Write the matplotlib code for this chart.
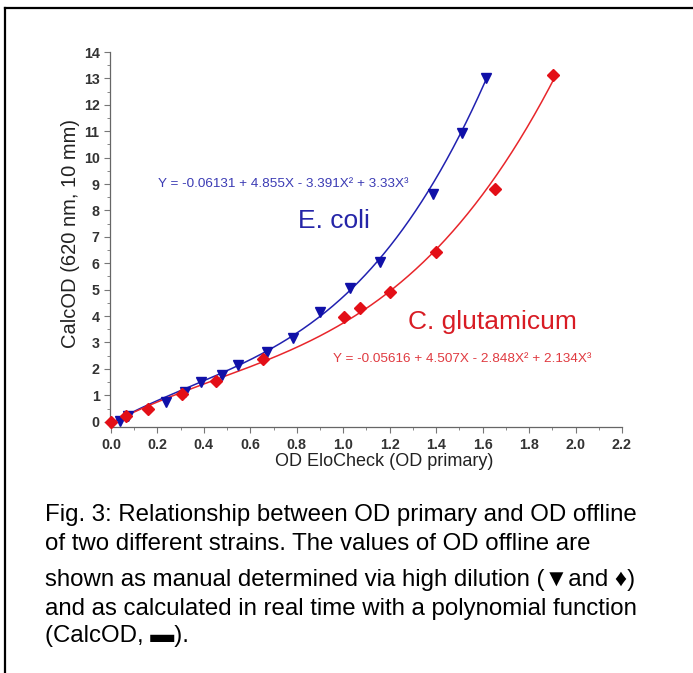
import numpy as np
import matplotlib
matplotlib.use("Agg")
import matplotlib.pyplot as plt
from matplotlib.lines import Line2D
from matplotlib.ticker import MultipleLocator

# ---- data ----
ecoli_x = [0.04, 0.075, 0.237, 0.318, 0.387, 0.476, 0.548, 0.672, 0.784, 0.899,
           1.031, 1.157, 1.386, 1.512, 1.613]
ecoli_y = [0.03, 0.20, 0.76, 1.14, 1.49, 1.77, 2.15, 2.63, 3.16, 4.14,
           5.05, 6.06, 8.61, 10.95, 13.0]
cglut_x = [0.0, 0.067, 0.158, 0.308, 0.454, 0.655, 1.002, 1.073, 1.2, 1.401,
           1.655, 1.905]
cglut_y = [0.0, 0.23, 0.48, 1.04, 1.54, 2.36, 3.95, 4.31, 4.92, 6.43,
           8.82, 13.12]
# polynomial fit coefficients as printed on the chart (c0, c1, c2, c3)
ecoli_coef = [-0.06131, 4.855, -3.391, 3.33]
cglut_coef = [-0.05616, 4.507, -2.848, 2.134]
xticks = [0.0, 0.2, 0.4, 0.6, 0.8, 1.0, 1.2, 1.4, 1.6, 1.8, 2.0, 2.2]
yticks = list(range(0, 15))

caption_lines = [
    "Fig. 3: Relationship between OD primary and OD offline",
    "of two different strains. The values of OD offline are",
    "shown as manual determined via high dilution (\u25bcand \u2666)",
    "and as calculated in real time with a polynomial function",
    "(CalcOD, \u25ac).",
]

W, H = 693, 673
fig = plt.figure(figsize=(W / 100, H / 100), dpi=100)
fig.patch.set_facecolor("white")
FAM = ["Liberation Sans", "DejaVu Sans"]


def fx(px):
    return px / W


def fy(py):
    return 1 - py / H


ax = fig.add_axes([fx(110), fy(427), (622 - 110) / W, (427 - 52) / H])
ax.set_xlim(-0.004, 2.2)
ax.set_ylim(-0.2, 14)

blue_line, blue_mk = "#2121b0", "#1010a8"
red_line, red_mk = "#e8262b", "#e30f17"


def poly_str(c):
    def sgn(v):
        return "+" if v >= 0 else "-"
    return (f"Y = {c[0]:g} {sgn(c[1])} {abs(c[1]):g}X {sgn(c[2])} {abs(c[2]):g}X\u00b2 "
            f"{sgn(c[3])} {abs(c[3]):g}X\u00b3")


xe = np.linspace(0, max(ecoli_x), 300)
xc = np.linspace(0, max(cglut_x), 300)
ax.plot(xe, np.polynomial.polynomial.polyval(xe, ecoli_coef), color=blue_line, lw=1.1, zorder=2)
ax.plot(xc, np.polynomial.polynomial.polyval(xc, cglut_coef), color=red_line, lw=1.1, zorder=2)
ax.plot(ecoli_x, ecoli_y, "v", color=blue_mk, ms=7.6, mec=blue_mk, zorder=3, clip_on=False)
ax.plot(cglut_x, cglut_y, "D", color=red_mk, ms=6.3, mec=red_mk, zorder=4, clip_on=False)

for s in ["top", "right"]:
    ax.spines[s].set_visible(False)
for s in ["left", "bottom"]:
    ax.spines[s].set_color("#666666")
    ax.spines[s].set_linewidth(0.9)

ax.set_xticks(xticks)
ax.set_yticks(yticks)
ax.xaxis.set_minor_locator(MultipleLocator(0.1))
ax.yaxis.set_minor_locator(MultipleLocator(0.5))
ax.set_xticklabels([f"{v:.1f}" for v in xticks])
ax.set_yticklabels([str(v) for v in yticks])
ax.tick_params(which="major", direction="out", length=4, width=0.8, color="#777777",
               labelsize=10.3, labelcolor="#333333", pad=3.5)
ax.tick_params(axis="x", which="major", pad=4)
ax.tick_params(which="minor", direction="out", length=2.5, width=0.7, color="#888888")
for lab in ax.get_xticklabels() + ax.get_yticklabels():
    lab.set_fontweight("bold")
    lab.set_family(FAM)

# axis labels
fig.text(fx(70), fy(234), "CalcOD (620 nm, 10 mm)", rotation=90, ha="center", va="center",
         fontsize=14.5, family=FAM, color="#222222")
fig.text(fx(384), fy(461), "OD EloCheck (OD primary)", ha="center", va="center",
         fontsize=13, family=FAM, color="#222222")

# annotations
fig.text(fx(158), fy(187), poly_str(ecoli_coef), ha="left", va="baseline",
         fontsize=9.7, family=FAM, color="#3b3bb4")
fig.text(fx(298), fy(228), "E. coli", ha="left", va="baseline",
         fontsize=19, family=FAM, color="#2525a8")
fig.text(fx(408), fy(329), "C. glutamicum", ha="left", va="baseline",
         fontsize=19, family=FAM, color="#d81c24")
fig.text(fx(333), fy(362), poly_str(cglut_coef), ha="left", va="baseline",
         fontsize=9.7, family=FAM, color="#e03a40")

# caption
baselines = [521, 550, 586, 615, 642]
for line, b in zip(caption_lines, baselines):
    fig.text(fx(45), fy(b), line, ha="left", va="baseline", fontsize=17.3,
             family=FAM, color="black")

# frame (top and left edges)
fig.add_artist(Line2D([fx(5), fx(5)], [fy(8), 0], transform=fig.transFigure,
                      color="black", lw=1.6))
fig.add_artist(Line2D([fx(5), 1], [fy(8), fy(8)], transform=fig.transFigure,
                      color="black", lw=1.6))

fig.savefig("out.png", dpi=100, facecolor="white")
